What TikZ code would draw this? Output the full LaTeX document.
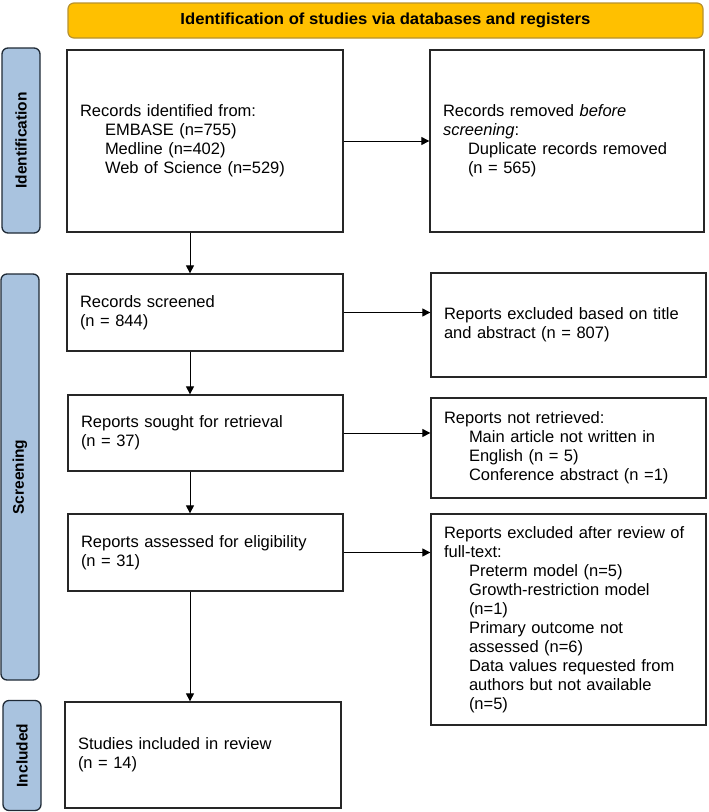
\documentclass[tikz,border=0pt]{standalone}
\usepackage{fontspec}
\usepackage{graphicx}
\setmainfont{Liberation Sans}
\usetikzlibrary{arrows.meta}
\definecolor{titlefill}{HTML}{FFC000}
\definecolor{titledraw}{HTML}{B8922E}
\definecolor{sidefill}{HTML}{A9C3DF}
\definecolor{sidedraw}{HTML}{1F2A36}
\newcommand{\ind}{\hspace*{25pt}}
\begin{document}
\begin{tikzpicture}[x=1pt,y=-1pt,
  box/.style={draw=black!85, line width=1.3pt, fill=white, align=left,
    inner xsep=13pt, inner ysep=0pt, anchor=center,
    font=\fontsize{16.5}{19}\selectfont},
  sidelab/.style={draw=sidedraw, line width=1.3pt, fill=sidefill, rounded corners=6pt,
    minimum width=38pt, inner sep=0pt, anchor=center},
  sidetext/.style={rotate=90, font=\fontsize{15.5}{17}\selectfont\bfseries},
  arr/.style={line width=1pt, black, -{Triangle[length=8pt,width=8pt]}}]
\useasboundingbox (0,0) rectangle (709,812);
% title
\node[draw=titledraw, line width=1.2pt, fill=titlefill, rounded corners=6pt,
  minimum width=635pt, minimum height=35pt, inner sep=0pt] (title) at (385.5,20.5)
  {\resizebox{410pt}{\height}{\fontsize{16}{18}\selectfont\bfseries Identification of studies via databases and registers}};
% side labels
\node[sidelab, minimum height=185pt] (sid) at (21,140.5) {};
\node[sidetext] (sidt) at (sid.center) {Identification};
\node[sidelab, minimum height=406pt] (sscr) at (20,477) {};
\node[sidetext] (sscrt) at (sscr.center) {Screening};
\node[sidelab, minimum height=110pt] (sinc) at (22,755.5) {};
\node[sidetext] (sinct) at (sinc.center) {Included};
% left column
\node[box, text width=250pt, minimum height=182pt] (ident) at (205,141)
  {Records identified from:\\\ind EMBASE (n=755)\\\ind Medline (n=402)\\\ind Web of Science (n=529)};
\node[box, text width=250pt, minimum height=77pt] (screen) at (205,312.5)
  {Records screened\\(n = 844)};
\node[box, text width=249pt, minimum height=76pt] (sought) at (205.5,433)
  {Reports sought for retrieval\\(n = 37)};
\node[box, text width=249pt, minimum height=77pt] (assess) at (205.5,552.5)
  {Reports assessed for eligibility\\(n = 31)};
\node[box, text width=250pt, minimum height=106pt] (incl) at (203,755)
  {Studies included in review\\(n = 14)};
% right column
\node[box, text width=248pt, minimum height=182pt] (removed) at (567,141)
  {Records removed \textit{before}\\\textit{screening}:\\\ind Duplicate records removed\\\ind (n = 565)};
\node[box, text width=249pt, minimum height=104pt] (exta) at (568.5,325)
  {Reports excluded based on title\\and abstract (n = 807)};
\node[box, text width=249pt, minimum height=100pt] (notret) at (568.5,448)
  {Reports not retrieved:\\\ind Main article not written in\\\ind English (n = 5)\\\ind Conference abstract (n =1)};
\node[box, text width=249pt, minimum height=211pt] (exft) at (568.5,619.5)
  {Reports excluded after review of\\full-text:\\\ind Preterm model (n=5)\\\ind Growth-restriction model\\\ind (n=1)\\\ind Primary outcome not\\\ind assessed (n=6)\\\ind Data values requested from\\\ind authors but not available\\\ind (n=5)};
% arrows
\coordinate (vx) at (190,0);
\draw[arr] (ident.south -| vx) -- (screen.north -| vx);
\draw[arr] (screen.south -| vx) -- (sought.north -| vx);
\draw[arr] (sought.south -| vx) -- (assess.north -| vx);
\draw[arr] (assess.south -| vx) -- (incl.north -| vx);
\draw[arr] (ident.east) -- (ident.east -| removed.west);
\draw[arr] (screen.east) -- (screen.east -| exta.west);
\draw[arr] (sought.east) -- (sought.east -| notret.west);
\draw[arr] (assess.east) -- (assess.east -| exft.west);
\end{tikzpicture}
\end{document}
